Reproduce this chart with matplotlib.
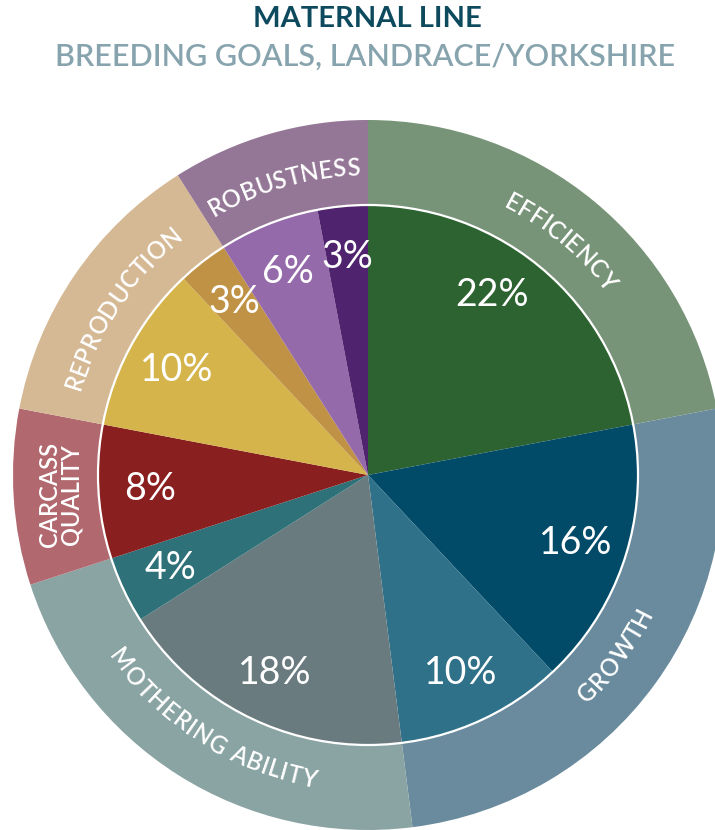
import numpy as np
import matplotlib
matplotlib.use("Agg")
import matplotlib.pyplot as plt
from matplotlib.font_manager import FontProperties

# ---------------- data ----------------
inner_values = [22, 16, 10, 18, 4, 8, 10, 3, 6, 3]
inner_labels = ["22%", "16%", "10%", "18%", "4%", "8%", "10%", "3%", "6%", "3%"]
inner_colors = ["#2D6331", "#014B69", "#2E7189", "#6A7B80", "#2E7178",
                "#89201F", "#D4B44B", "#C09245", "#956AAA", "#4F236D"]

outer_labels = ["EFFICIENCY", "GROWTH", "MOTHERING ABILITY", "CARCASS\nQUALITY",
                "REPRODUCTION", "ROBUSTNESS"]
outer_values = [22, 26, 22, 8, 13, 9]
outer_colors = ["#789478", "#6A8B9D", "#8AA3A3", "#B1686E", "#D5B995", "#947796"]

title = "MATERNAL LINE"
subtitle = "BREEDING GOALS, LANDRACE/YORKSHIRE"

# ---------------- layout ----------------
W, H = 715, 830
fig = plt.figure(figsize=(W / 100, H / 100), dpi=100)
ax = fig.add_axes([0, 0, 1, 1])
cx, cy = 368, H - 475
r_in, r_out = 270, 355
FONT = "Lato"

ax.pie(outer_values, colors=outer_colors, radius=r_out, center=(cx, cy),
       startangle=90, counterclock=False,
       wedgeprops=dict(width=r_out - r_in, linewidth=0))
ax.pie(inner_values, colors=inner_colors, radius=r_in, center=(cx, cy),
       startangle=90, counterclock=False, wedgeprops=dict(linewidth=0))
ax.add_patch(plt.Circle((cx, cy), r_in, fill=False, ec="white", lw=1.6))

ax.set_xlim(0, W)
ax.set_ylim(0, H)
ax.set_aspect("equal")
ax.axis("off")

# inner percentage labels (small angular nudge for the first one)
label_nudge = [-5, 0, 0, 0, 0, 0, 0, 0, 0, 0]
cum = np.cumsum([0] + inner_values)
for i, lab in enumerate(inner_labels):
    mid = np.deg2rad((cum[i] + cum[i + 1]) / 2 / 100 * 360 + label_nudge[i])
    rr = 0.81 * r_in
    ax.text(cx + rr * np.sin(mid), cy + rr * np.cos(mid), lab, color="white",
            fontsize=27, family=FONT, ha="center", va="center")

# curved outer labels
renderer = fig.canvas.get_renderer()
px_per_pt = 100 / 72.0


def text_w(s, fp):
    if s == "":
        return 0.0
    w, h, d = renderer.get_text_width_height_descent(s, fp, ismath=False)
    return w


def curved(text, theta_mid, r, fs, flip, track=0.6, weight="semibold"):
    fp = FontProperties(family=FONT, size=fs, weight=weight)
    cap = 0.72 * fs * px_per_pt
    centers = []
    for i in range(len(text)):
        a = text_w(text[:i], fp) + track * i
        b = text_w(text[:i + 1], fp) + track * i
        centers.append((a + b) / 2)
    total = text_w(text, fp) + track * (len(text) - 1)
    span = np.rad2deg(total / r)
    for ch, c in zip(text, centers):
        if ch == " ":
            continue
        if not flip:
            th = theta_mid - span / 2 + np.rad2deg(c / r)
            rb = r - cap / 2
            rot = -th
        else:
            th = theta_mid + span / 2 - np.rad2deg(c / r)
            rb = r + cap / 2
            rot = 180 - th
        t = np.deg2rad(th)
        ax.text(cx + rb * np.sin(t), cy + rb * np.cos(t), ch, fontproperties=fp,
                color="white", rotation=rot, rotation_mode="anchor",
                ha="center", va="baseline")


ocum = np.cumsum([0] + outer_values)
r_lab = (r_in + r_out) / 2 - 4
for i, lab in enumerate(outer_labels):
    mid = (ocum[i] + ocum[i + 1]) / 2 / 100 * 360
    if "\n" in lab:
        t = np.deg2rad(mid)
        ax.text(cx + r_lab * np.sin(t), cy + r_lab * np.cos(t), lab, color="white",
                fontsize=17, family=FONT, fontweight="semibold", rotation=90,
                ha="center", va="center", linespacing=0.9,
                multialignment="center")
        continue
    flip = 100 < mid < 250
    curved(lab, mid, r_lab, 17, flip)

fig.text(367 / W, 1 - 19 / H, title, color="#0D4A5E", fontsize=21, family=FONT,
         fontweight="bold", ha="center", va="center")
fig.text(365 / W, 1 - 57 / H, subtitle, color="#87A4AE", fontsize=22, family=FONT,
         fontweight="semibold", ha="center", va="center")

fig.savefig("out.png", dpi=100)
